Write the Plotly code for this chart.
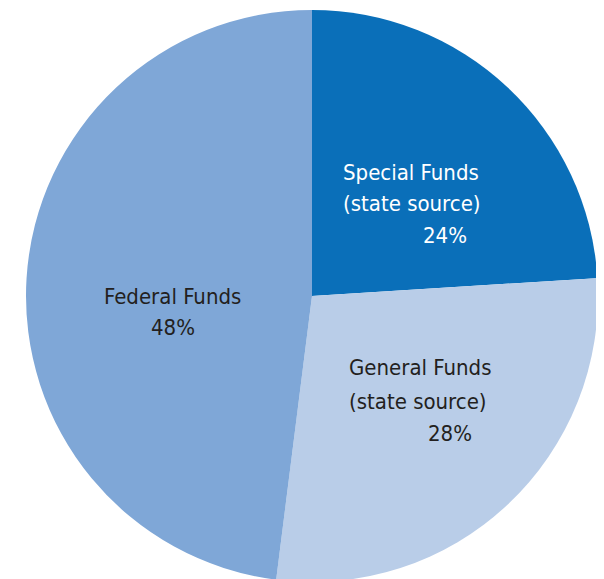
import plotly.graph_objects as go

labels = ["Special Funds (state source)", "General Funds (state source)", "Federal Funds"]
values = [24, 28, 48]
colors = ["#0A6FB9", "#B9CDE8", "#7FA7D7"]

W, H = 604, 574
OFF = 8  # page body margin offset
FONT = "DejaVu Sans Condensed"

fig = go.Figure(go.Pie(
    labels=labels, values=values, sort=False, direction="clockwise", rotation=0,
    marker=dict(colors=colors, line=dict(width=0)),
    textinfo="none", hoverinfo="label+percent", showlegend=False,
    domain=dict(x=[(26 - OFF) / W, (598 - OFF) / W], y=[0, 1]),
))

# label lines: (text, left px, center-y px, color) in screenshot pixels
label_lines = [
    ("Special Funds", 341, 171, "white"),
    ("(state source)", 341, 202, "white"),
    ("24%", 421, 234, "white"),
    ("Federal Funds", 102, 296, "#231F20"),
    ("48%", 149, 327, "#231F20"),
    ("General Funds", 347, 367, "#231F20"),
    ("(state source)", 347, 401, "#231F20"),
    ("28%", 426, 433, "#231F20"),
]
for t, x, y, c in label_lines:
    fig.add_annotation(text=t, x=(x - OFF) / W, y=1 - (y - OFF) / H, xref="paper", yref="paper",
                       xanchor="left", yanchor="middle", showarrow=False,
                       font=dict(family=FONT, size=22, color=c))

fig.update_layout(width=W, height=H, margin=dict(l=0, r=0, t=2, b=0),
                  paper_bgcolor="white", plot_bgcolor="white")
fig.write_html("out.html")
